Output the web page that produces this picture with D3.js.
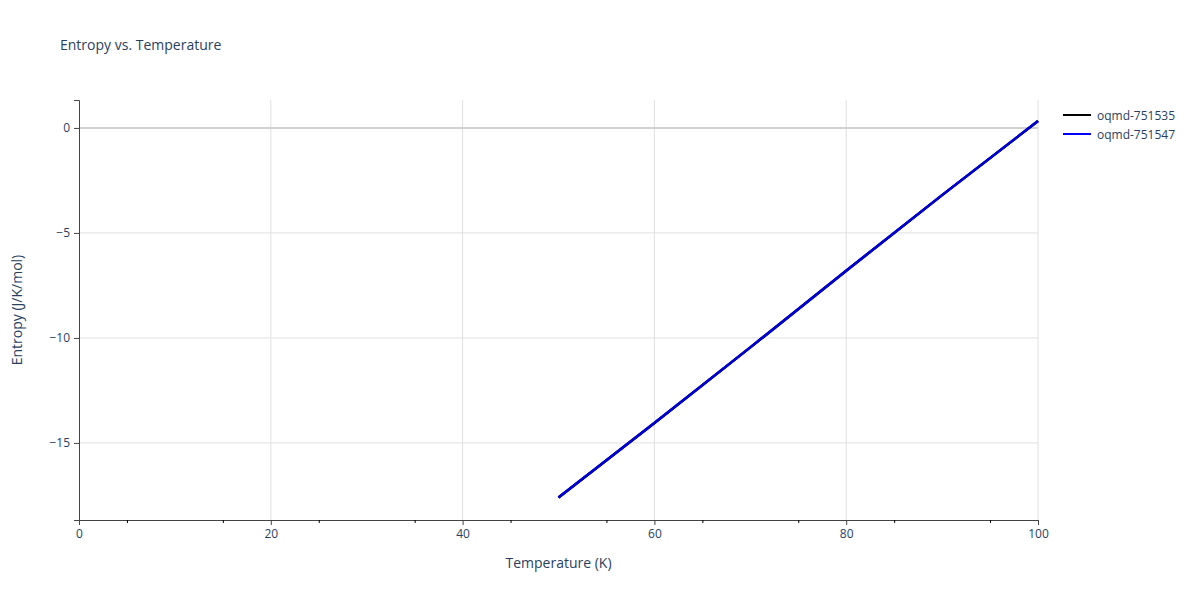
<!DOCTYPE html>
<html><head><meta charset="utf-8">
<script src="https://cdn.jsdelivr.net/npm/d3@7"></script>
<style>body{margin:0;font-family:"Open Sans",sans-serif;background:#fff}</style>
</head><body><svg id="c" width="1200" height="600"></svg>
<script>
const temps = [50, 60, 70, 80, 90, 100];
const entropyA = [-17.6, -14.05, -10.45, -6.8, -3.2, 0.33]; // oqmd-751535
const entropyB = [-17.6, -14.05, -10.45, -6.8, -3.2, 0.33]; // oqmd-751547
const seriesNames = ["oqmd-751535", "oqmd-751547"];
const seriesColors = ["#000000", "#0000ff"];
const xTicks = [0, 20, 40, 60, 80, 100];
const yTicks = [0, -5, -10, -15];

const svg = d3.select('#c');
const m = {l: 79, r: 1038, t: 100, b: 520};
const x = d3.scaleLinear().domain([0, 100]).range([m.l, m.r]);
const y = d3.scaleLinear().domain([-18.67, 1.33]).range([m.b, m.t]);
const txt = '#2a3f5f';

// Gitter
svg.append('g').selectAll('line').data(xTicks.slice(1)).join('line')
    .attr('x1', d => x(d)).attr('x2', d => x(d)).attr('y1', m.t).attr('y2', m.b)
    .attr('stroke', '#e0e0e0');
svg.append('g').selectAll('line').data(yTicks).join('line')
    .attr('x1', m.l).attr('x2', m.r).attr('y1', d => y(d)).attr('y2', d => y(d))
    .attr('stroke', d => d === 0 ? '#d0d0d0' : '#e0e0e0').attr('stroke-width', d => d === 0 ? 2 : 1);

// Achsen
const xAxis = svg.append('g').attr('transform', `translate(0,${m.b})`)
    .call(d3.axisBottom(x).tickValues(xTicks).tickSize(5).tickPadding(4));
svg.append('g').attr('transform', `translate(0,${m.b})`)
    .call(d3.axisBottom(x).tickValues(d3.range(5, 100, 10)).tickSize(3).tickFormat(''))
    .select('.domain').remove();
const yAxis = svg.append('g').attr('transform', `translate(${m.l},0)`)
    .call(d3.axisLeft(y).tickValues(yTicks).tickSize(5).tickPadding(4).tickFormat(d => d < 0 ? '\u2212' + (-d) : d));
[xAxis, yAxis].forEach(a => {
    a.selectAll('text').attr('fill', txt).style('font-size', '12px').style('font-family', '"Open Sans",sans-serif');
    a.selectAll('line,path').attr('stroke', '#444');
});

// Linien
const line = d3.line().x((d, i) => x(temps[i])).y(d => y(d));
[entropyA, entropyB].forEach((s, i) => {
    svg.append('path').datum(s).attr('d', line).attr('fill', 'none')
        .attr('stroke', seriesColors[i]).attr('stroke-width', 2.5);
});
// Mischfarbe wie im Original (dunkelblau)
svg.append('path').datum(entropyB).attr('d', line).attr('fill', 'none')
    .attr('stroke', '#0000cc').attr('stroke-width', 2.5);

// Texte
svg.append('text').attr('x', 60).attr('y', 50).text('Entropy vs. Temperature')
    .attr('fill', txt).style('font-size', '14px');
svg.append('text').attr('x', (m.l + m.r) / 2).attr('y', 568).attr('text-anchor', 'middle')
    .text('Temperature (K)').attr('fill', txt).style('font-size', '14px');
svg.append('text').attr('transform', `translate(22,${(m.t + m.b) / 2}) rotate(-90)`)
    .attr('text-anchor', 'middle').text('Entropy (J/K/mol)').attr('fill', txt).style('font-size', '14px');

// Legende
const lg = svg.append('g').selectAll('g').data(seriesNames).join('g')
    .attr('transform', (d, i) => `translate(1063,${115 + i * 19})`);
lg.append('line').attr('x1', 0).attr('x2', 28).attr('stroke', (d, i) => seriesColors[i]).attr('stroke-width', 2);
lg.append('text').attr('x', 34).attr('y', 4.5).text(d => d).attr('fill', txt).style('font-size', '12px');
</script></body></html>
